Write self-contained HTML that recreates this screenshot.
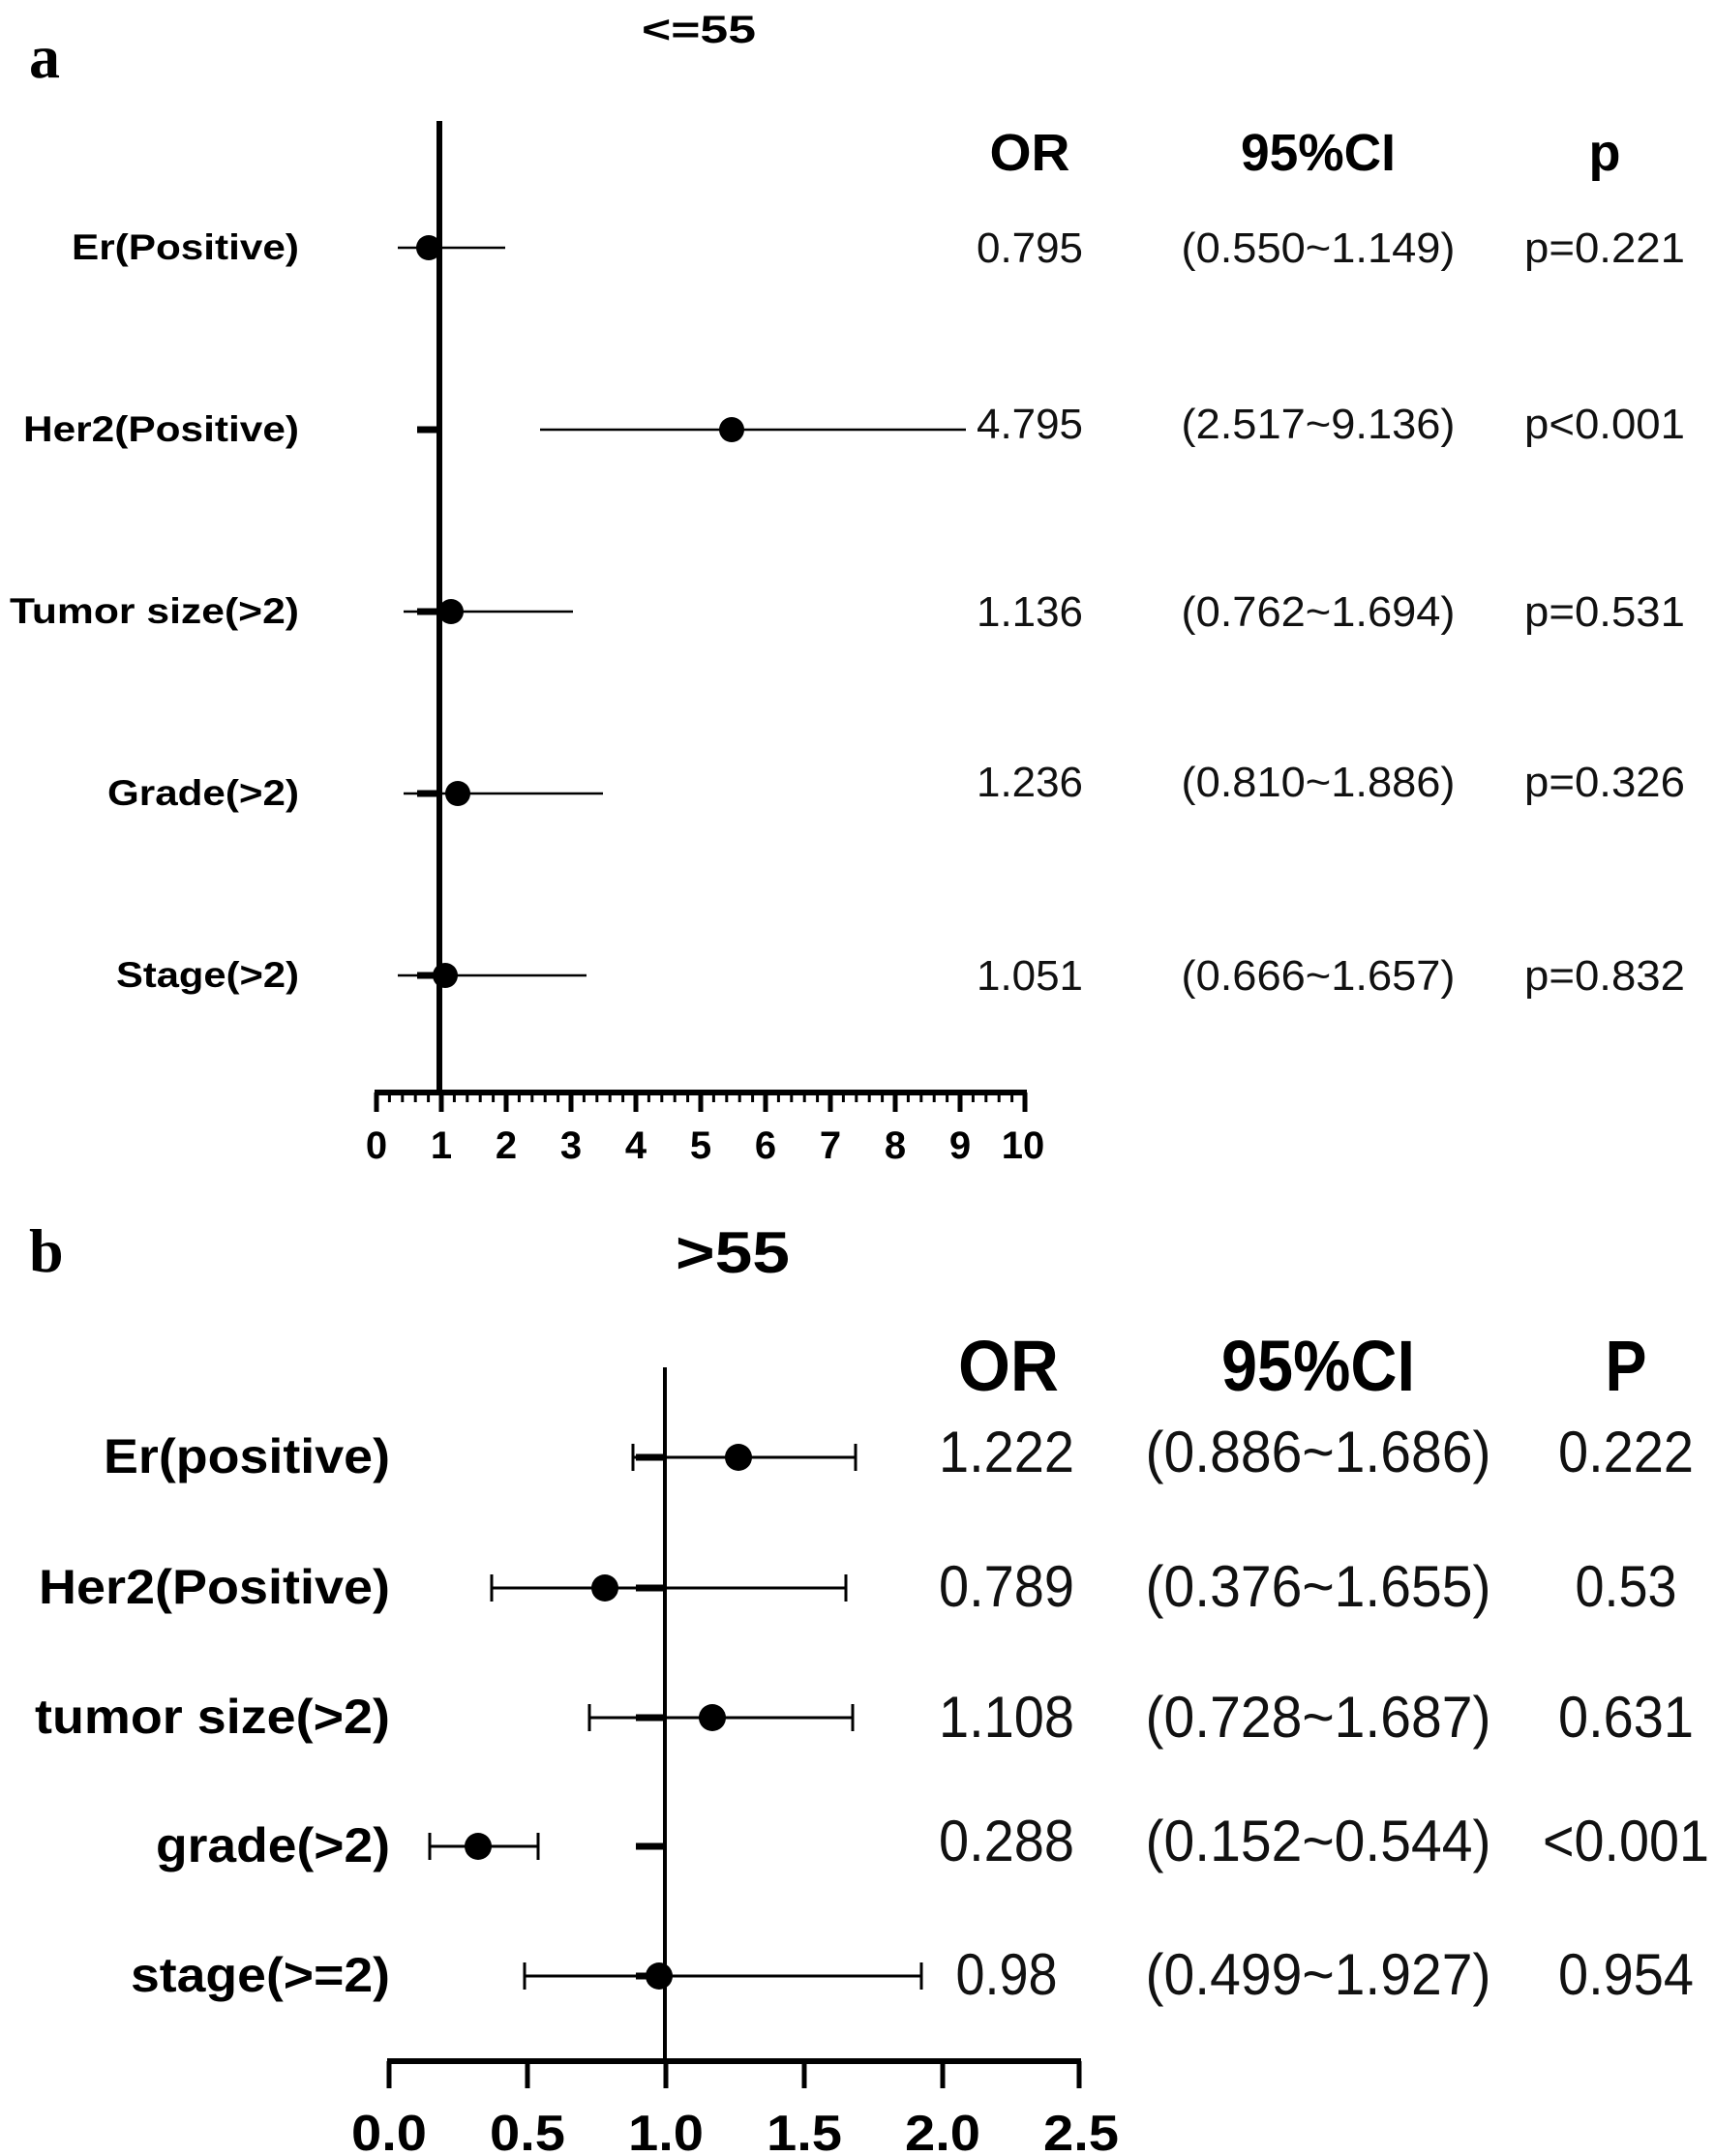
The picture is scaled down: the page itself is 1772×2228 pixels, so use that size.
<!DOCTYPE html>
<html><head><meta charset="utf-8"><style>html,body{margin:0;padding:0;background:#fff}svg{display:block}</style></head>
<body>
<svg width="1772" height="2228" viewBox="0 0 1772 2228" xmlns="http://www.w3.org/2000/svg" font-family="Liberation Sans, sans-serif">
<!-- Panel a -->
<text x="30" y="80" font-family="Liberation Serif, serif" font-weight="bold" font-size="64">a</text>
<text x="722" y="44" text-anchor="middle" font-weight="bold" font-size="40" textLength="118" lengthAdjust="spacingAndGlyphs">&lt;=55</text>
<line x1="454" y1="125" x2="454" y2="1132" stroke="#000" stroke-width="6"/>
<line x1="387" y1="1129" x2="1061" y2="1129" stroke="#000" stroke-width="6"/>
<g stroke="#000">
<line x1="389" y1="1129" x2="389" y2="1149" stroke-width="5"/>
<line x1="456" y1="1129" x2="456" y2="1149" stroke-width="5"/>
<line x1="523" y1="1129" x2="523" y2="1149" stroke-width="5"/>
<line x1="590" y1="1129" x2="590" y2="1149" stroke-width="5"/>
<line x1="657" y1="1129" x2="657" y2="1149" stroke-width="5"/>
<line x1="724" y1="1129" x2="724" y2="1149" stroke-width="5"/>
<line x1="791" y1="1129" x2="791" y2="1149" stroke-width="5"/>
<line x1="858" y1="1129" x2="858" y2="1149" stroke-width="5"/>
<line x1="925" y1="1129" x2="925" y2="1149" stroke-width="5"/>
<line x1="992" y1="1129" x2="992" y2="1149" stroke-width="5"/>
<line x1="1059" y1="1129" x2="1059" y2="1149" stroke-width="5"/>
</g>
<g font-weight="bold" font-size="40" text-anchor="middle">
<text x="389" y="1197">0</text><text x="456" y="1197">1</text><text x="523" y="1197">2</text><text x="590" y="1197">3</text><text x="657" y="1197">4</text><text x="724" y="1197">5</text><text x="791" y="1197">6</text><text x="858" y="1197">7</text><text x="925" y="1197">8</text><text x="992" y="1197">9</text><text x="1057" y="1197">10</text>
</g>
<g font-weight="bold" font-size="37" text-anchor="end">
<text x="309" y="268" textLength="235" lengthAdjust="spacingAndGlyphs">Er(Positive)</text>
<text x="309" y="456" textLength="285" lengthAdjust="spacingAndGlyphs">Her2(Positive)</text>
<text x="309" y="644" textLength="299" lengthAdjust="spacingAndGlyphs">Tumor size(&gt;2)</text>
<text x="309" y="832" textLength="198" lengthAdjust="spacingAndGlyphs">Grade(&gt;2)</text>
<text x="309" y="1020" textLength="189" lengthAdjust="spacingAndGlyphs">Stage(&gt;2)</text>
</g>
<g stroke="#000" stroke-width="2.5">
<line x1="411" y1="256" x2="522" y2="256"/>
<line x1="558" y1="444" x2="998" y2="444"/>
<line x1="417" y1="632" x2="592" y2="632"/>
<line x1="417" y1="820" x2="623" y2="820"/>
<line x1="411" y1="1008" x2="606" y2="1008"/>
</g>
<g stroke="#000" stroke-width="7">
<line x1="431" y1="444" x2="454" y2="444"/>
<line x1="431" y1="632" x2="454" y2="632"/>
<line x1="431" y1="820" x2="454" y2="820"/>
<line x1="431" y1="1008" x2="454" y2="1008"/>
</g>
<g fill="#000">
<circle cx="443" cy="256" r="13"/><circle cx="756" cy="444" r="13"/><circle cx="466" cy="632" r="13"/><circle cx="473" cy="820" r="13"/><circle cx="460" cy="1008" r="13"/>
</g>
<g font-weight="bold" font-size="54" text-anchor="middle">
<text x="1064" y="176" textLength="83" lengthAdjust="spacingAndGlyphs">OR</text>
<text x="1362" y="176" textLength="160" lengthAdjust="spacingAndGlyphs">95%CI</text>
<text x="1658" y="176">p</text>
</g>
<g font-size="44" text-anchor="middle" fill="#111">
<text x="1064" y="271" textLength="110" lengthAdjust="spacingAndGlyphs">0.795</text>
<text x="1362" y="271" textLength="283" lengthAdjust="spacingAndGlyphs">(0.550~1.149)</text>
<text x="1658" y="271" textLength="166" lengthAdjust="spacingAndGlyphs">p=0.221</text>
<text x="1064" y="453" textLength="110" lengthAdjust="spacingAndGlyphs">4.795</text>
<text x="1362" y="453" textLength="283" lengthAdjust="spacingAndGlyphs">(2.517~9.136)</text>
<text x="1658" y="453" textLength="166" lengthAdjust="spacingAndGlyphs">p&lt;0.001</text>
<text x="1064" y="647" textLength="110" lengthAdjust="spacingAndGlyphs">1.136</text>
<text x="1362" y="647" textLength="283" lengthAdjust="spacingAndGlyphs">(0.762~1.694)</text>
<text x="1658" y="647" textLength="166" lengthAdjust="spacingAndGlyphs">p=0.531</text>
<text x="1064" y="823" textLength="110" lengthAdjust="spacingAndGlyphs">1.236</text>
<text x="1362" y="823" textLength="283" lengthAdjust="spacingAndGlyphs">(0.810~1.886)</text>
<text x="1658" y="823" textLength="166" lengthAdjust="spacingAndGlyphs">p=0.326</text>
<text x="1064" y="1023" textLength="110" lengthAdjust="spacingAndGlyphs">1.051</text>
<text x="1362" y="1023" textLength="283" lengthAdjust="spacingAndGlyphs">(0.666~1.657)</text>
<text x="1658" y="1023" textLength="166" lengthAdjust="spacingAndGlyphs">p=0.832</text>
</g>
<g stroke="#000" stroke-width="3">
<path d="M402.4 1129v10M415.8 1129v10M429.2 1129v10M442.6 1129v10M469.4 1129v10M482.8 1129v10M496.2 1129v10M509.6 1129v10M536.4 1129v10M549.8 1129v10M563.2 1129v10M576.6 1129v10M603.4 1129v10M616.8 1129v10M630.2 1129v10M643.6 1129v10M670.4 1129v10M683.8 1129v10M697.2 1129v10M710.6 1129v10M737.4 1129v10M750.8 1129v10M764.2 1129v10M777.6 1129v10M804.4 1129v10M817.8 1129v10M831.2 1129v10M844.6 1129v10M871.4 1129v10M884.8 1129v10M898.2 1129v10M911.6 1129v10M938.4 1129v10M951.8 1129v10M965.2 1129v10M978.6 1129v10M1005.4 1129v10M1018.8 1129v10M1032.2 1129v10M1045.6 1129v10"/>
</g>

<!-- Panel b -->
<text x="30" y="1314" font-family="Liberation Serif, serif" font-weight="bold" font-size="64">b</text>
<text x="757" y="1315" text-anchor="middle" font-weight="bold" font-size="60" textLength="118" lengthAdjust="spacingAndGlyphs">&gt;55</text>
<line x1="687" y1="1413" x2="687" y2="2130" stroke="#000" stroke-width="4"/>
<line x1="400" y1="2130" x2="1117" y2="2130" stroke="#000" stroke-width="6"/>
<g stroke="#000" stroke-width="5">
<line x1="402" y1="2130" x2="402" y2="2158"/><line x1="545" y1="2130" x2="545" y2="2158"/><line x1="688" y1="2130" x2="688" y2="2158"/><line x1="831" y1="2130" x2="831" y2="2158"/><line x1="974" y1="2130" x2="974" y2="2158"/><line x1="1115" y1="2130" x2="1115" y2="2158"/>
</g>
<g font-weight="bold" font-size="52" text-anchor="middle">
<text x="402" y="2222" textLength="78" lengthAdjust="spacingAndGlyphs">0.0</text>
<text x="545" y="2222" textLength="78" lengthAdjust="spacingAndGlyphs">0.5</text>
<text x="688" y="2222" textLength="78" lengthAdjust="spacingAndGlyphs">1.0</text>
<text x="831" y="2222" textLength="78" lengthAdjust="spacingAndGlyphs">1.5</text>
<text x="974" y="2222" textLength="78" lengthAdjust="spacingAndGlyphs">2.0</text>
<text x="1117" y="2222" textLength="78" lengthAdjust="spacingAndGlyphs">2.5</text>
</g>
<g font-weight="bold" font-size="50" text-anchor="end">
<text x="403" y="1522" textLength="296" lengthAdjust="spacingAndGlyphs">Er(positive)</text>
<text x="403" y="1657" textLength="363" lengthAdjust="spacingAndGlyphs">Her2(Positive)</text>
<text x="403" y="1791" textLength="367" lengthAdjust="spacingAndGlyphs">tumor size(&gt;2)</text>
<text x="403" y="1924" textLength="242" lengthAdjust="spacingAndGlyphs">grade(&gt;2)</text>
<text x="403" y="2058" textLength="268" lengthAdjust="spacingAndGlyphs">stage(&gt;=2)</text>
</g>
<g stroke="#000" stroke-width="3">
<path d="M654 1506H884M654 1492v28M884 1492v28"/>
<path d="M508 1641H874M508 1627v28M874 1627v28"/>
<path d="M609 1775H881M609 1761v28M881 1761v28"/>
<path d="M444 1908H556M444 1894v28M556 1894v28"/>
<path d="M542 2042H952M542 2028v28M952 2028v28"/>
</g>
<g stroke="#000" stroke-width="7">
<line x1="657" y1="1506" x2="687" y2="1506"/>
<line x1="657" y1="1641" x2="687" y2="1641"/>
<line x1="657" y1="1775" x2="687" y2="1775"/>
<line x1="657" y1="1908" x2="687" y2="1908"/>
<line x1="657" y1="2042" x2="687" y2="2042"/>
</g>
<g fill="#000">
<circle cx="763" cy="1506" r="14"/><circle cx="625" cy="1641" r="14"/><circle cx="736" cy="1775" r="14"/><circle cx="494" cy="1908" r="14"/><circle cx="681" cy="2042" r="14"/>
</g>
<g font-weight="bold" font-size="74" text-anchor="middle">
<text x="1042" y="1437" textLength="104" lengthAdjust="spacingAndGlyphs">OR</text>
<text x="1362" y="1437" textLength="200" lengthAdjust="spacingAndGlyphs">95%CI</text>
<text x="1680" y="1437" textLength="43" lengthAdjust="spacingAndGlyphs">P</text>
</g>
<g font-size="60" text-anchor="middle" fill="#111">
<text x="1040" y="1521" textLength="140" lengthAdjust="spacingAndGlyphs">1.222</text>
<text x="1362" y="1521" textLength="357" lengthAdjust="spacingAndGlyphs">(0.886~1.686)</text>
<text x="1680" y="1521" textLength="140" lengthAdjust="spacingAndGlyphs">0.222</text>
<text x="1040" y="1660" textLength="140" lengthAdjust="spacingAndGlyphs">0.789</text>
<text x="1362" y="1660" textLength="357" lengthAdjust="spacingAndGlyphs">(0.376~1.655)</text>
<text x="1680" y="1660" textLength="105" lengthAdjust="spacingAndGlyphs">0.53</text>
<text x="1040" y="1795" textLength="140" lengthAdjust="spacingAndGlyphs">1.108</text>
<text x="1362" y="1795" textLength="357" lengthAdjust="spacingAndGlyphs">(0.728~1.687)</text>
<text x="1680" y="1795" textLength="140" lengthAdjust="spacingAndGlyphs">0.631</text>
<text x="1040" y="1923" textLength="140" lengthAdjust="spacingAndGlyphs">0.288</text>
<text x="1362" y="1923" textLength="357" lengthAdjust="spacingAndGlyphs">(0.152~0.544)</text>
<text x="1680" y="1923" textLength="172" lengthAdjust="spacingAndGlyphs">&lt;0.001</text>
<text x="1040" y="2061" textLength="105" lengthAdjust="spacingAndGlyphs">0.98</text>
<text x="1362" y="2061" textLength="357" lengthAdjust="spacingAndGlyphs">(0.499~1.927)</text>
<text x="1680" y="2061" textLength="140" lengthAdjust="spacingAndGlyphs">0.954</text>
</g>
</svg>
</body></html>
